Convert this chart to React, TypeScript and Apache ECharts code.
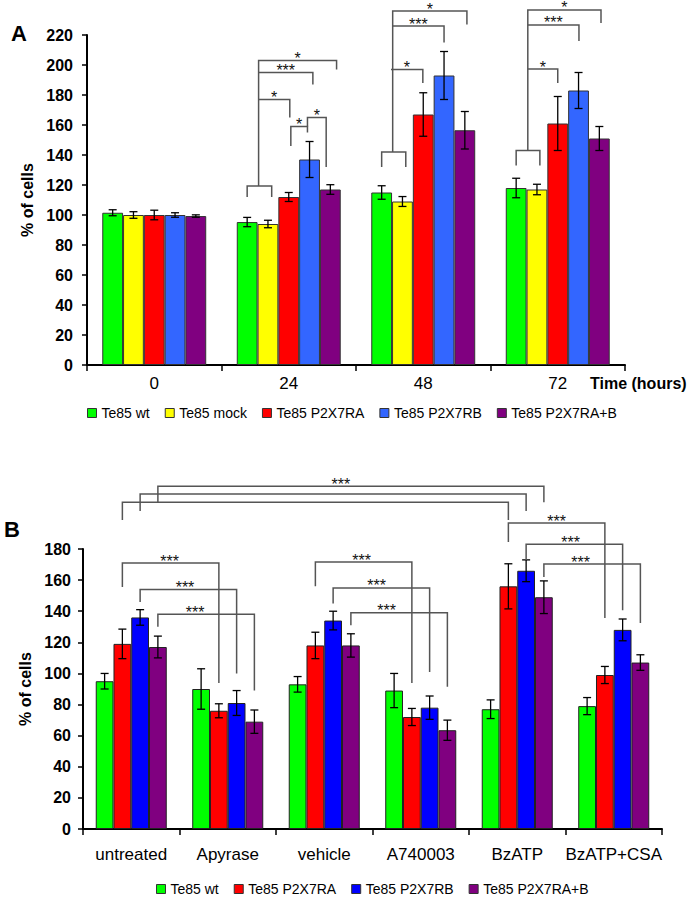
import React, { useEffect, useRef } from 'react';
import * as echarts from 'echarts';

// ---------- Panel A data ----------
const timeCategories = ['0', '24', '48', '72'];
const seriesNamesA = ['Te85 wt', 'Te85 mock', 'Te85 P2X7RA', 'Te85 P2X7RB', 'Te85 P2X7RA+B'];
const colorsA = ['#00FF00', '#FFFF00', '#FF0000', '#3366FF', '#800080'];
const wtA = [101.5, 95.3, 115, 118];
const wtAErr = [2, 3.1, 4.5, 6.5];
const mockA = [100, 94, 109, 117];
const mockAErr = [2.2, 2.5, 3.3, 3.5];
const p2x7raA = [100, 112, 167, 161];
const p2x7raAErr = [3.2, 3, 14.5, 18];
const p2x7rbA = [100, 137, 193, 183];
const p2x7rbAErr = [1.5, 12, 16, 12];
const p2x7rabA = [99.3, 117, 156.5, 151];
const p2x7rabAErr = [0.8, 3.2, 12.5, 8];
const yTicksA = { min: 0, max: 220, step: 20 };

// ---------- Panel B data ----------
const treatments = ['untreated', 'Apyrase', 'vehicle', 'A740003', 'BzATP', 'BzATP+CSA'];
const seriesNamesB = ['Te85 wt', 'Te85 P2X7RA', 'Te85 P2X7RB', 'Te85 P2X7RA+B'];
const colorsB = ['#00FF00', '#FF0000', '#0000FF', '#800080'];
const wtB = [95, 90, 93, 89, 77, 79];
const wtBErr = [5, 13, 5, 11, 6, 5.5];
const p2x7raB = [119, 76, 118, 72, 156, 99];
const p2x7raBErr = [9.5, 4.5, 8.5, 5.5, 14.5, 5.5];
const p2x7rbB = [136, 81, 134, 78, 166, 128];
const p2x7rbBErr = [5, 8, 6, 7.5, 7, 7];
const p2x7rabB = [117, 69, 118, 63.5, 149, 107];
const p2x7rabBErr = [7, 7.5, 7.5, 6.5, 10.5, 5];
const yTicksB = { min: 0, max: 180, step: 20 };

// Significance brackets: l/r = [category, bar index (fractional), leg bottom value], y = bar height value
type Bracket = { l: number[]; r: number[]; y: number; t?: string; tx?: number };
const bracketsA: Bracket[] = [
  { l: [1, 0, 112], r: [1, 1.18, 112], y: 119.3 },
  { l: [1, 0.55, 119.3], r: [1, 4.3, 197], y: 203, t: '*' },
  { l: [1, 0.55, 195], r: [1, 3.16, 187], y: 195, t: '***' },
  { l: [1, 0.55, 177], r: [1, 2.05, 165], y: 177, t: '*' },
  { l: [1, 2.1, 146], r: [1, 2.9, 155], y: 159, t: '*' },
  { l: [1, 2.9, 159], r: [1, 3.8, 132], y: 165, t: '*' },
  { l: [2, 0, 132], r: [2, 1.16, 132], y: 142 },
  { l: [2, 0.53, 142], r: [2, 4.1, 227], y: 236, t: '*' },
  { l: [2, 0.53, 226], r: [2, 3, 215], y: 226, t: '***' },
  { l: [2, 0.45, 197], r: [2, 1.98, 188], y: 197, t: '*' },
  { l: [3, 0, 133], r: [3, 1.14, 133], y: 143 },
  { l: [3, 0.56, 143], r: [3, 4.08, 228], y: 236.7, t: '*' },
  { l: [3, 0.56, 226.7], r: [3, 3.02, 216], y: 226.7, t: '***' },
  { l: [3, 0.56, 197.3], r: [3, 2, 188], y: 197.3, t: '*' },
];
const bracketsB: Bracket[] = [
  { l: [0, 1, 198.6], r: [4, 1, 198.6], y: 210 },
  { l: [0, 2, 204.4], r: [4, 2, 204.4], y: 215.3 },
  { l: [0, 3, 210], r: [4, 3, 210], y: 220.4, t: '***', tx: 0.474 },
  { l: [0, 1, 155.5], r: [1, 1, 93.8], y: 171, t: '***', tx: 0.49 },
  { l: [0, 2, 146], r: [1, 2, 100], y: 154, t: '***', tx: 0.465 },
  { l: [0, 3, 130], r: [1, 3, 89], y: 138, t: '***', tx: 0.385 },
  { l: [2, 1, 156], r: [3, 1, 93.8], y: 171.6, t: '***', tx: 0.48 },
  { l: [2, 2, 145], r: [3, 2, 101], y: 155, t: '***', tx: 0.45 },
  { l: [2, 3, 131], r: [3, 3, 91.5], y: 139, t: '***', tx: 0.37 },
  { l: [4, 1, 184.5], r: [5, 1, 135.6], y: 196.7, t: '***', tx: 0.5 },
  { l: [4, 2, 173], r: [5, 2, 140.7], y: 183, t: '***', tx: 0.46 },
  { l: [4, 3, 162], r: [5, 3, 132.4], y: 170.3, t: '***', tx: 0.38 },
];

const FONT = 'Arial, "Liberation Sans", Helvetica, sans-serif';
const GAP_A = 0.227;
const GAP_B = 0.264;

function barOffset(idx: number, n: number, gapFrac: number) {
  return ((idx + 0.5) / n - 0.5) * (1 - gapFrac);
}

function errorSeries(axis: number, n: number, gapFrac: number, vals: number[][], errs: number[][]) {
  const data: number[][] = [];
  vals.forEach((arr, s) => arr.forEach((v, c) => data.push([c, v, s, errs[s][c]])));
  return {
    type: 'custom',
    xAxisIndex: axis,
    yAxisIndex: axis,
    clip: false,
    silent: true,
    z: 5,
    encode: { x: 0, y: 1 },
    data,
    renderItem: (params: any, api: any) => {
      const c = api.value(0), v = api.value(1), s = api.value(2), e = api.value(3);
      const band = api.size([1, 0])[0];
      const cx = api.coord([c, v])[0] + barOffset(s, n, gapFrac) * band;
      const yT = api.coord([c, v + e])[1];
      const yB = api.coord([c, v - e])[1];
      const hw = 4;
      const style = { stroke: '#000', lineWidth: 1.3 };
      return {
        type: 'group',
        children: [
          { type: 'line', shape: { x1: cx, y1: yT, x2: cx, y2: yB }, style },
          { type: 'line', shape: { x1: cx - hw, y1: yT, x2: cx + hw, y2: yT }, style },
          { type: 'line', shape: { x1: cx - hw, y1: yB, x2: cx + hw, y2: yB }, style },
        ],
      };
    },
  };
}

function bracketSeries(axis: number, n: number, gapFrac: number, list: Bracket[]) {
  return {
    type: 'custom',
    xAxisIndex: axis,
    yAxisIndex: axis,
    clip: false,
    silent: true,
    z: 6,
    encode: { x: 0, y: 1 },
    data: list.map((b) => [b.l[0], b.y]),
    renderItem: (params: any, api: any) => {
      const b = list[params.dataIndex];
      const band = api.size([1, 0])[0];
      const xL = api.coord([b.l[0], 0])[0] + barOffset(b.l[1], n, gapFrac) * band;
      const xR = api.coord([b.r[0], 0])[0] + barOffset(b.r[1], n, gapFrac) * band;
      const yH = api.coord([0, b.y])[1];
      const yLB = api.coord([0, b.l[2]])[1];
      const yRB = api.coord([0, b.r[2]])[1];
      const children: any[] = [
        {
          type: 'polyline',
          shape: { points: [[xL, yLB], [xL, yH], [xR, yH], [xR, yRB]] },
          style: { stroke: '#555', lineWidth: 1.5, fill: null },
        },
      ];
      if (b.t) {
        const tx = b.tx === undefined ? 0.5 : b.tx;
        children.push({
          type: 'text',
          x: xL + tx * (xR - xL),
          y: yH + 6,
          style: { text: b.t, fill: '#111', fontSize: 16, fontFamily: FONT, align: 'center', verticalAlign: 'bottom' },
        });
      }
      return { type: 'group', children };
    },
  };
}

export default function App() {
  const ref = useRef<HTMLDivElement>(null);
  useEffect(() => {
    if (!ref.current) return;
    const chart = echarts.init(ref.current, null, { renderer: 'svg' });
    const valsA = [wtA, mockA, p2x7raA, p2x7rbA, p2x7rabA];
    const errsA = [wtAErr, mockAErr, p2x7raAErr, p2x7rbAErr, p2x7rabAErr];
    const valsB = [wtB, p2x7raB, p2x7rbB, p2x7rabB];
    const errsB = [wtBErr, p2x7raBErr, p2x7rbBErr, p2x7rabBErr];

    const xAxisBase = (data: string[], grid: number, margin: number) => ({
      type: 'category',
      gridIndex: grid,
      data,
      axisLine: { lineStyle: { color: '#000', width: 2 } },
      axisTick: { show: true, length: 6, lineStyle: { color: '#000', width: 1.5 } },
      axisLabel: { color: '#000', fontSize: 17, fontFamily: FONT, margin, interval: 0 },
    });
    const yAxisBase = (grid: number, t: { min: number; max: number; step: number }, gap: number, margin: number) => ({
      type: 'value',
      gridIndex: grid,
      min: t.min,
      max: t.max,
      interval: t.step,
      name: '% of cells',
      nameLocation: 'middle',
      nameGap: gap,
      nameTextStyle: { color: '#000', fontSize: 16, fontWeight: 'bold', fontFamily: FONT },
      axisLine: { show: true, lineStyle: { color: '#000', width: 2 } },
      axisTick: { show: true, length: 5, lineStyle: { color: '#000', width: 1.5 } },
      axisLabel: { color: '#000', fontSize: 16, fontWeight: 'bold', fontFamily: FONT, margin },
      splitLine: { show: false },
    });

    const barsA = seriesNamesA.map((name, i) => ({
      type: 'bar',
      name,
      xAxisIndex: 0,
      yAxisIndex: 0,
      data: valsA[i],
      barGap: '0%',
      barCategoryGap: GAP_A * 100 + '%',
      itemStyle: { color: colorsA[i], borderColor: '#333', borderWidth: 1 },
    }));
    const barsB = seriesNamesB.map((name, i) => ({
      type: 'bar',
      name,
      xAxisIndex: 1,
      yAxisIndex: 1,
      data: valsB[i],
      barGap: '0%',
      barCategoryGap: GAP_B * 100 + '%',
      itemStyle: { color: colorsB[i], borderColor: '#222', borderWidth: 1 },
    }));

    const legendBase = {
      icon: 'rect',
      itemWidth: 9,
      itemHeight: 9,
      itemGap: 15,
      itemStyle: { borderColor: '#333', borderWidth: 1 },
      textStyle: { color: '#000', fontSize: 14, fontFamily: FONT },
      selectedMode: false,
    };

    chart.setOption({
      animation: false,
      backgroundColor: '#fff',
      grid: [
        { left: 87, top: 35, width: 538, height: 330 },
        { left: 83, top: 549, width: 579, height: 280 },
      ],
      xAxis: [xAxisBase(timeCategories, 0, 10), xAxisBase(treatments, 1, 17)],
      yAxis: [yAxisBase(0, yTicksA, 48, 14), yAxisBase(1, yTicksB, 44, 12)],
      legend: [
        { ...legendBase, left: 82, top: 401, data: seriesNamesA.map((n, i) => ({ name: n, itemStyle: { color: colorsA[i] } })) },
        { ...legendBase, left: 151, top: 877, data: seriesNamesB.map((n, i) => ({ name: n, itemStyle: { color: colorsB[i] } })) },
      ],
      graphic: [
        { type: 'text', left: 11, top: 22, style: { text: 'A', fontSize: 22, fontWeight: 'bold', fontFamily: FONT, fill: '#000' } },
        { type: 'text', left: 4, top: 518, style: { text: 'B', fontSize: 22, fontWeight: 'bold', fontFamily: FONT, fill: '#000' } },
        { type: 'text', left: 590, top: 375, style: { text: 'Time (hours)', fontSize: 16, fontWeight: 'bold', fontFamily: FONT, fill: '#000' } },
      ],
      series: [
        ...barsA,
        ...barsB,
        errorSeries(0, 5, GAP_A, valsA, errsA),
        errorSeries(1, 4, GAP_B, valsB, errsB),
        bracketSeries(0, 5, GAP_A, bracketsA),
        bracketSeries(1, 4, GAP_B, bracketsB),
      ],
    });
    return () => chart.dispose();
  }, []);
  return <div ref={ref} style={{ position: 'absolute', left: 0, top: 0, width: 692, height: 900 }} />;
}
